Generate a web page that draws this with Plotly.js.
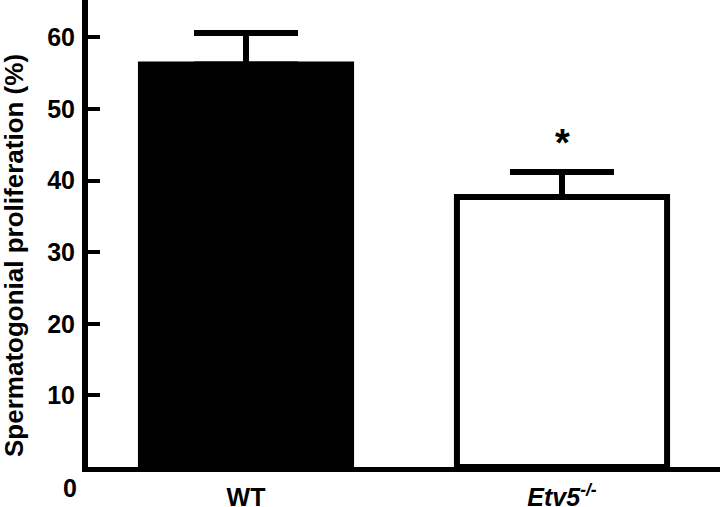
<!DOCTYPE html>
<html>
<head>
<meta charset="utf-8">
<script src="https://cdn.plot.ly/plotly-3.0.1.min.js"></script>
<style>html,body{margin:0;padding:0;background:#fff}#chart{width:720px;height:507px}</style>
</head>
<body>
<div id="chart"></div>
<script>
const categories = ["WT", "Etv5"];
const tickLabels = ["WT", "<i>Etv5<sup>-/-</sup></i>"];
const meanValues = [56.2, 37.7];
const errorValues = [4.4, 3.5];
const barColors = ["#000000", "#ffffff"];
const significance = ["", "*"];
const yTickValues = [0, 10, 20, 30, 40, 50, 60];
const yTickLabels = ["", "10", "20", "30", "40", "50", "60"];
const yZeroLabel = "0";
const yTitle = "Spermatogonial proliferation (%)";

const FONT = "Liberation Sans, Arial, Helvetica, sans-serif";

const trace = {
  type: "bar",
  x: categories,
  y: meanValues,
  width: 0.665,
  marker: { color: barColors, line: { color: "#000", width: 6 } },
  error_y: {
    type: "data", symmetric: false, array: errorValues, arrayminus: [0, 0],
    color: "#000", thickness: 6, width: 52, visible: true
  },
  hoverinfo: "none"
};

const annotations = categories.map((c, i) => ({
  x: c, y: meanValues[i] + errorValues[i], xref: "x", yref: "y",
  text: "<b>" + significance[i] + "</b>", showarrow: false,
  yanchor: "bottom", yshift: 6,
  font: { family: FONT, size: 38, color: "#000" }
})).filter(a => a.text !== "<b></b>");

// zero label sits lower than the axis line, as in the reference
annotations.push({
  x: 0, xref: "paper", y: 0, yref: "y",
  text: "<b>" + yZeroLabel + "</b>", showarrow: false,
  xanchor: "right", yanchor: "middle", xshift: -9, yshift: -21,
  font: { family: FONT, size: 25, color: "#000" }
});

// y-axis title
annotations.push({
  x: -0.117, xref: "paper", y: 0.452, yref: "paper",
  text: "<b>" + yTitle + "</b>", showarrow: false, textangle: -90,
  xanchor: "center", yanchor: "middle",
  font: { family: FONT, size: 26, color: "#000" }
});

const layout = {
  width: 720, height: 507,
  margin: { l: 88, r: 0, t: 0, b: 40, pad: 0 },
  paper_bgcolor: "#fff", plot_bgcolor: "#fff",
  showlegend: false,
  font: { family: FONT, color: "#000" },
  xaxis: {
    type: "category",
    range: [-0.5, 1.5],
    tickvals: categories, ticktext: tickLabels,
    ticks: "", showgrid: false, zeroline: false,
    showline: true, linecolor: "#000", linewidth: 5,
    tickfont: { family: FONT, size: 25, weight: "bold", color: "#000" },
    ticklabelstandoff: 4
  },
  yaxis: {
    range: [0, 65.2],
    tickvals: yTickValues, ticktext: yTickLabels,
    ticks: "inside", ticklen: 12, tickwidth: 4, tickcolor: "#000",
    showgrid: false, zeroline: false,
    showline: true, linecolor: "#000", linewidth: 6,
    tickfont: { family: FONT, size: 25, weight: "bold", color: "#000" },
    ticklabelstandoff: 2
  },
  annotations: annotations
};

Plotly.newPlot("chart", [trace], layout, { staticPlot: true, displayModeBar: false });
</script>
</body>
</html>
